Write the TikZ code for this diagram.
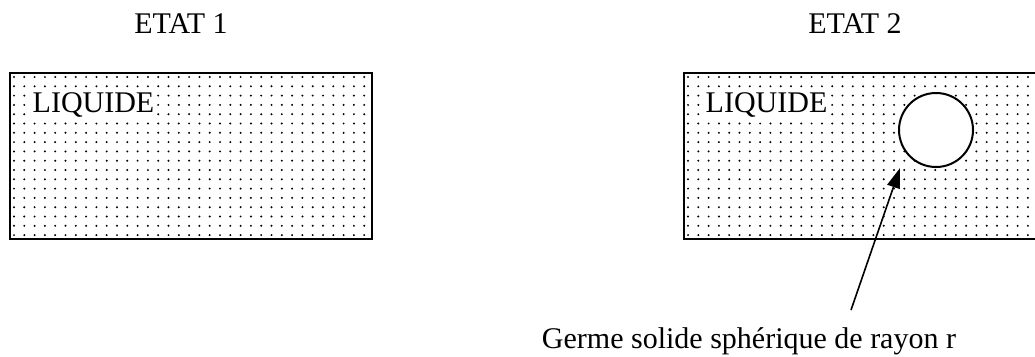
\documentclass[tikz,border=0pt]{standalone}
\usepackage{fontspec}
\setmainfont{Liberation Serif}
\usetikzlibrary{arrows.meta}
\begin{document}
\begin{tikzpicture}[x=1pt,y=-1pt,
  box/.style={draw=black,line width=2.2pt,inner sep=0pt,anchor=north west},
  lbl/.style={font=\fontsize{30}{36}\selectfont,anchor=base,inner sep=0pt},
  dotted fill/.style={fill=black}]
\useasboundingbox (0,0) rectangle (1035,356);
% titles
\node[lbl] (e1) at (181,33) {ETAT 1};
\node[lbl] (e2) at (855,33) {ETAT 2};
% dotted liquid, state 1
\begin{scope}
  \clip (9,72) rectangle (371,238);
  \foreach \i in {0,...,35}{
    \foreach \j in {0,...,17}{
      \fill[dotted fill] (14+\i*10.3,77+\j*9.3) circle (1.1);
    }
  }
\end{scope}
\node[box,minimum width=362pt,minimum height=166pt] (b1) at (9,72) {};
\node[lbl,anchor=base west,fill=white,inner sep=0.5pt] (l1) at (32,112) {LIQUIDE};
% dotted liquid, state 2
\begin{scope}
  \clip (683,72) rectangle (1040,238);
  \foreach \i in {0,...,35}{
    \foreach \j in {0,...,17}{
      \fill[dotted fill] (688+\i*10.3,77+\j*9.3) circle (1.1);
    }
  }
\end{scope}
\node[box,minimum width=370pt,minimum height=166pt] (b2) at (683,72) {};
\node[lbl,anchor=base west,fill=white,inner sep=0.5pt] (l2) at (705,112) {LIQUIDE};
% solid germ
\node[draw=black,circle,fill=white,line width=2pt,minimum size=74pt,inner sep=0pt] (g) at (936,130) {};
% caption and arrow
\node[lbl] (t) at (749,348) {Germe solide sphérique de rayon r};
\coordinate (tail) at (851,310);
\coordinate (tip) at (900,168);
\draw[-{Triangle[length=20pt,width=13pt]},line width=1.6pt] (tail) -- (tip);
\end{tikzpicture}
\end{document}
